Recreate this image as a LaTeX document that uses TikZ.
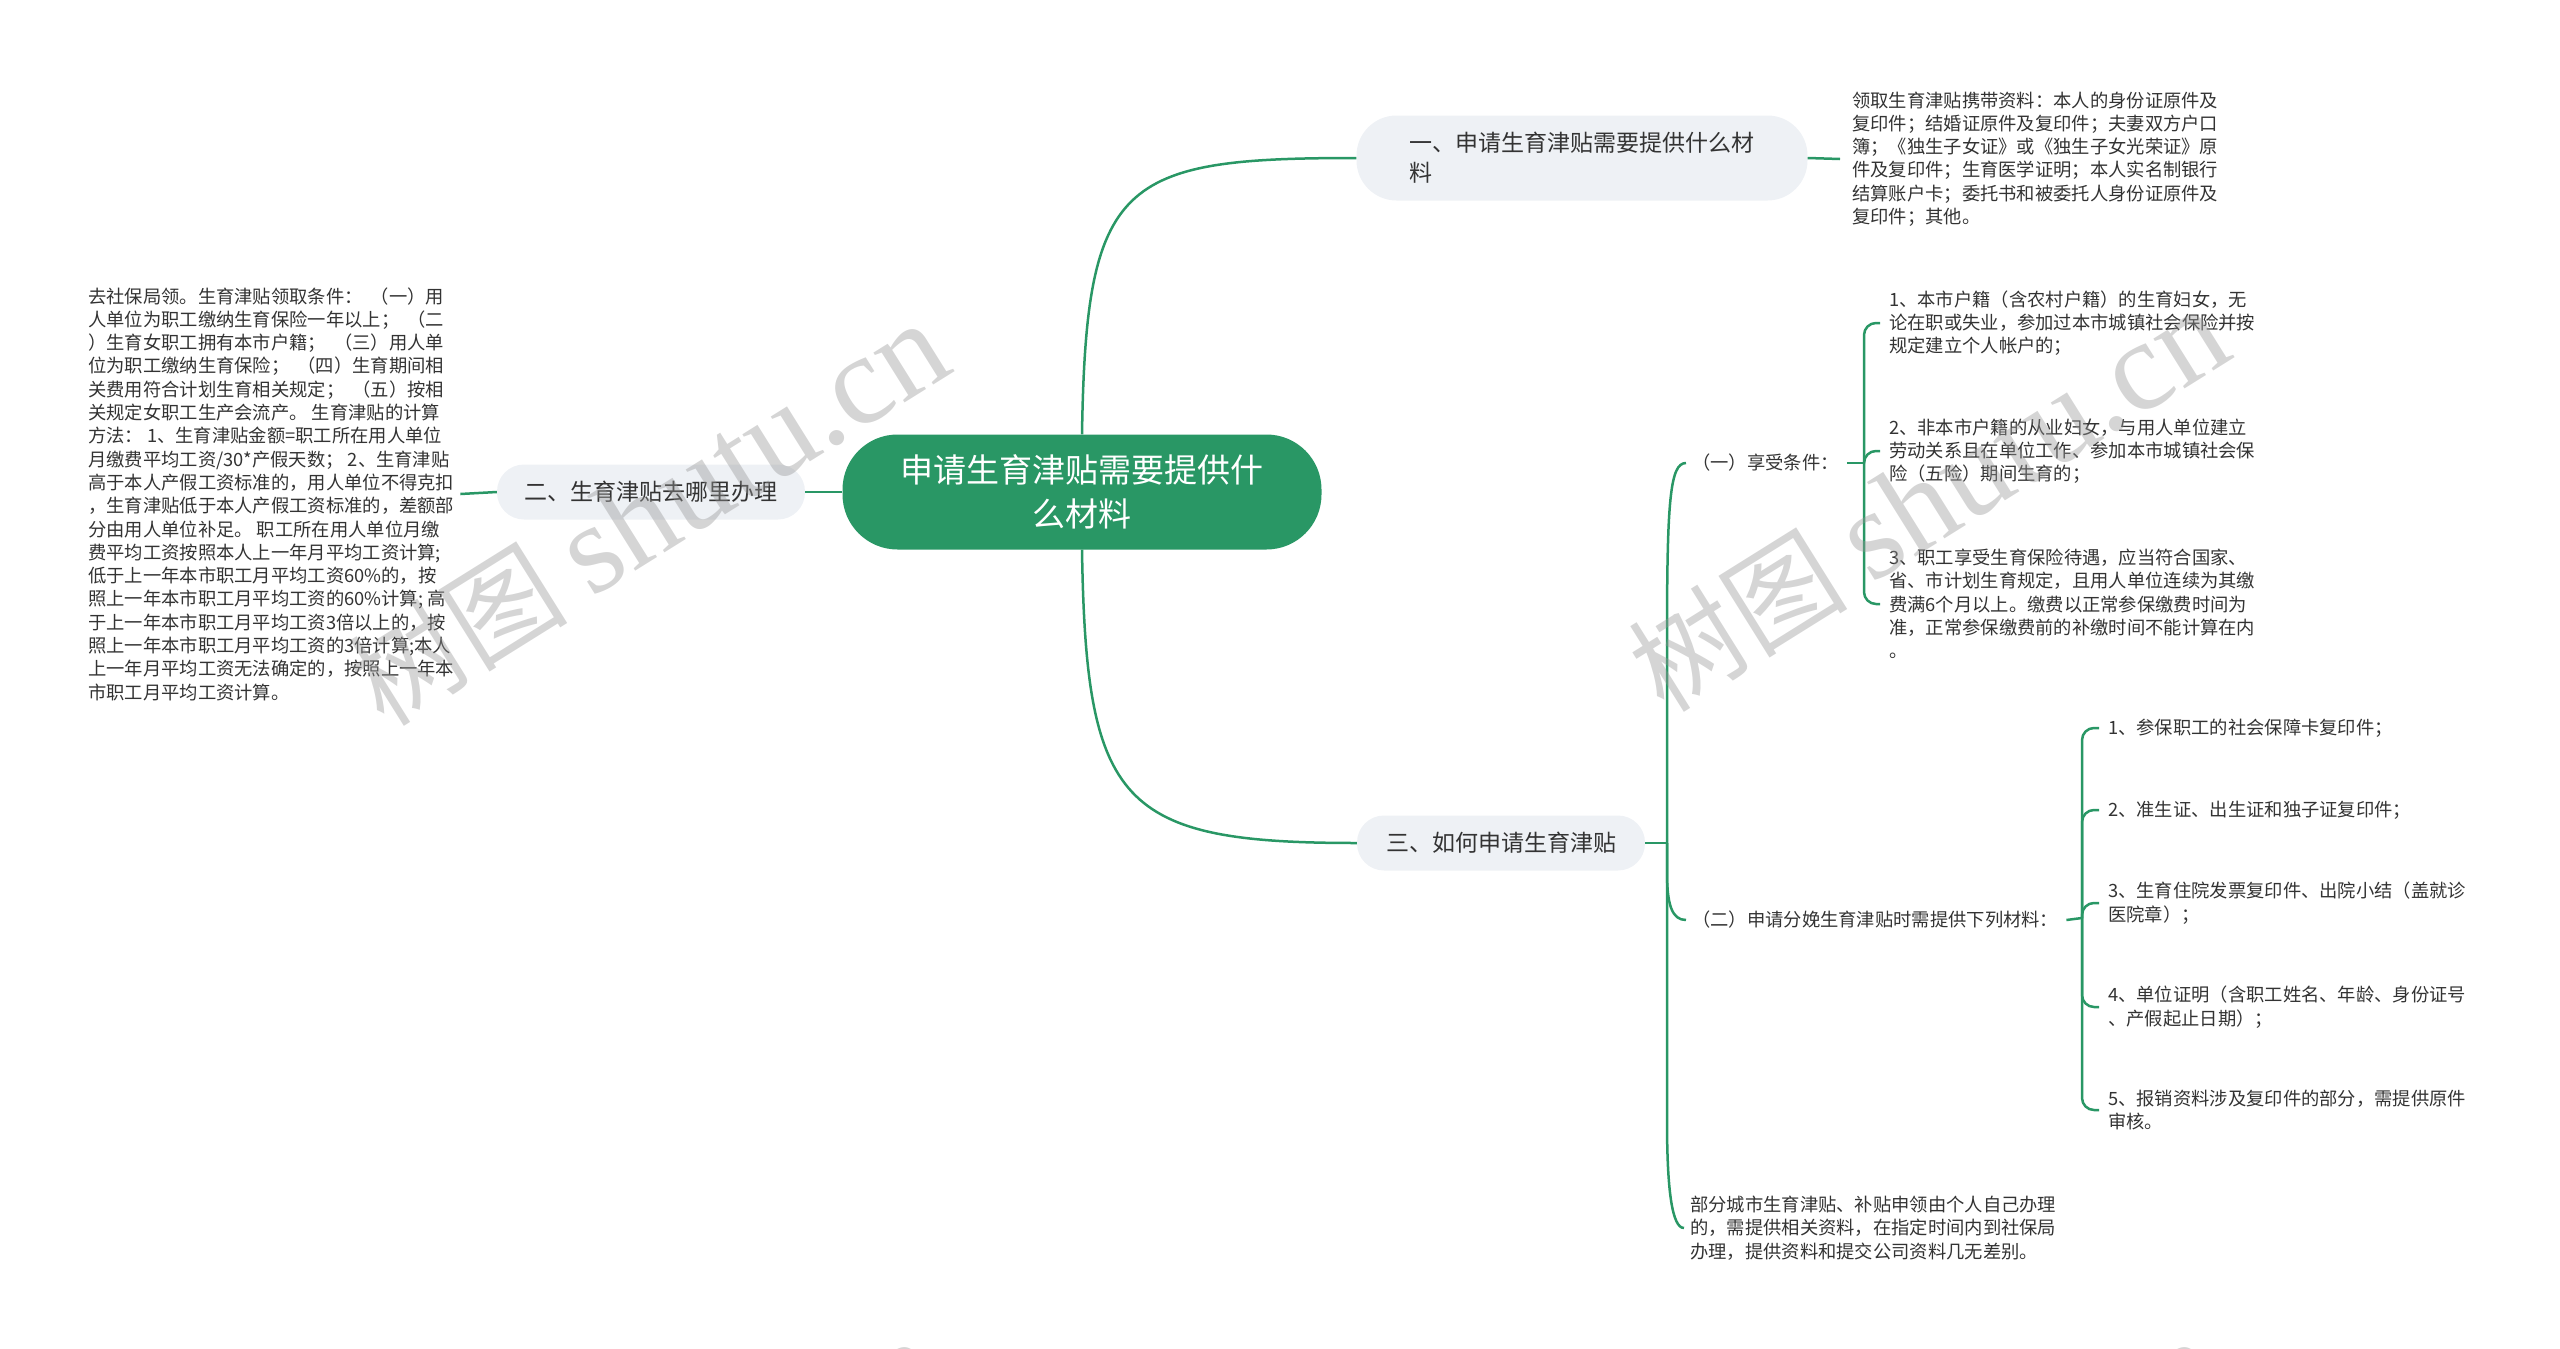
\documentclass[tikz,border=0pt]{standalone}
\usepackage{fontspec}
\usetikzlibrary{calc}
\setmainfont{Noto Sans CJK SC}
\newfontfamily\wmserif{Liberation Serif}
\definecolor{lg}{RGB}{41,151,101}
\definecolor{bfill}{RGB}{238,241,245}
\definecolor{txt}{RGB}{51,51,51}
\definecolor{wmc}{RGB}{150,150,150}
\begin{document}
\begin{tikzpicture}[x=1pt,y=-1pt,
  small/.style={font=\fontsize{18.3}{23.3}\selectfont, text=txt, align=left, inner sep=0pt, anchor=west},
  branch/.style={fill=bfill, font=\fontsize{23}{30}\selectfont, text=txt, align=left, inner sep=0pt, minimum height=55pt, rounded corners=27pt},
  centerbox/.style={fill=lg, font=\fontsize{33}{44}\selectfont, text=white, align=center, inner sep=0pt, rounded corners=55pt},
  conn/.style={draw=lg, line width=2.5pt},
  wm/.style={font=\fontsize{110}{110}\selectfont, text=wmc, text opacity=0.4, inner sep=0pt, rotate=32}
]
\useasboundingbox (0,0) rectangle (2560,1349);

% main nodes
\node[centerbox, minimum width=479pt, minimum height=115pt] (c) at (1082,492) {申请生育津贴需要提供什\\么材料};
\node[branch, minimum width=451pt, minimum height=85pt, rounded corners=40pt] (b1) at (1582,158) {一、申请生育津贴需要提供什么材\\料};
\node[branch, minimum width=308pt] (b2) at (651,492) {二、生育津贴去哪里办理};
\node[branch, minimum width=288pt] (b3) at (1501,843) {三、如何申请生育津贴};

% text leaves
\node[small] (r1) at (1852,159) {领取生育津贴携带资料：本人的身份证原件及\\复印件；结婚证原件及复印件；夫妻双方户口\\簿；《独生子女证》或《独生子女光荣证》原\\件及复印件；生育医学证明；本人实名制银行\\结算账户卡；委托书和被委托人身份证原件及\\复印件；其他。};

\node[small] (l1) at (88,494) {去社保局领。生育津贴领取条件：\ \ （一）用\\人单位为职工缴纳生育保险一年以上；\ \ （二\\）生育女职工拥有本市户籍；\ \ （三）用人单\\位为职工缴纳生育保险；\ \ （四）生育期间相\\关费用符合计划生育相关规定；\ \ （五）按相\\关规定女职工生产会流产。 生育津贴的计算\\方法： 1、生育津贴金额=职工所在用人单位\\月缴费平均工资/30*产假天数； 2、生育津贴\\高于本人产假工资标准的，用人单位不得克扣\\，生育津贴低于本人产假工资标准的，差额部\\分由用人单位补足。 职工所在用人单位月缴\\费平均工资按照本人上一年月平均工资计算;\\低于上一年本市职工月平均工资60\%的，按\\照上一年本市职工月平均工资的60\%计算; 高\\于上一年本市职工月平均工资3倍以上的，按\\照上一年本市职工月平均工资的3倍计算;本人\\上一年月平均工资无法确定的，按照上一年本\\市职工月平均工资计算。};

\node[small] (c1) at (1692,463) {（一）享受条件：};
\node[small] (c2) at (1692,920) {（二）申请分娩生育津贴时需提供下列材料：};
\node[small] (c3) at (1690,1228) {部分城市生育津贴、补贴申领由个人自己办理\\的，需提供相关资料，在指定时间内到社保局\\办理，提供资料和提交公司资料几无差别。};

\node[small] (i1) at (1889,323) {1、本市户籍（含农村户籍）的生育妇女，无\\论在职或失业，参加过本市城镇社会保险并按\\规定建立个人帐户的；};
\node[small] (i2) at (1889,451) {2、非本市户籍的从业妇女，与用人单位建立\\劳动关系且在单位工作、参加本市城镇社会保\\险（五险）期间生育的；};
\node[small] (i3) at (1889,604) {3、职工享受生育保险待遇，应当符合国家、\\省、市计划生育规定，且用人单位连续为其缴\\费满6个月以上。缴费以正常参保缴费时间为\\准，正常参保缴费前的补缴时间不能计算在内\\。};

\node[small] (j1) at (2108,728) {1、参保职工的社会保障卡复印件；};
\node[small] (j2) at (2108,810) {2、准生证、出生证和独子证复印件；};
\node[small] (j3) at (2108,903) {3、生育住院发票复印件、出院小结（盖就诊\\医院章）；};
\node[small] (j4) at (2108,1007) {4、单位证明（含职工姓名、年龄、身份证号\\、产假起止日期）；};
\node[small] (j5) at (2108,1110) {5、报销资料涉及复印件的部分，需提供原件\\审核。};

% connectors
\draw[conn] (c.north) .. controls (1086,180) and (1120,158) .. (b1.west);
\draw[conn] (c.south) .. controls (1086,805) and (1120,843) .. (b3.west);
\draw[conn] (c.west) -- (b2.east);
\draw[conn] (b2.west) -- ($(l1.east)+(6,0)$);
\draw[conn] (b1.east) -- ($(r1.west)+(-12,0)$);

\coordinate (sp) at (1667,843);
\draw[conn] (b3.east) -- (sp);
\draw[conn] (sp) -- (1667,640) .. controls (1667,500) and (1670,463) .. ($(c1.west)+(-6,0)$);
\draw[conn] (sp) -- (1667,872) .. controls (1667,905) and (1672,920) .. ($(c2.west)+(-6,0)$);
\draw[conn] (sp) -- (1667,1120) .. controls (1667,1190) and (1672,1228) .. ($(c3.west)+(-6,0)$);

\coordinate (k1) at (1864,463);
\draw[conn] ($(c1.east)+(8,0)$) -- (k1);
\foreach \t in {i1,i2,i3}
  \draw[conn, rounded corners=12pt, shorten >=9pt] (k1) |- (\t.west);

\coordinate (k2) at (2082,918);
\draw[conn] ($(c2.east)+(8,0)$) -- (k2);
\foreach \t in {j1,j2,j3,j4,j5}
  \draw[conn, rounded corners=12pt, shorten >=9pt] (k2) |- (\t.west);

% watermarks
\foreach \p in {(648,514),(1928,500),(640,1532),(1920,1532)}
  \node[wm] at \p {树图 {\wmserif\fontsize{128}{128}\selectfont shutu.cn}};
\end{tikzpicture}
\end{document}
